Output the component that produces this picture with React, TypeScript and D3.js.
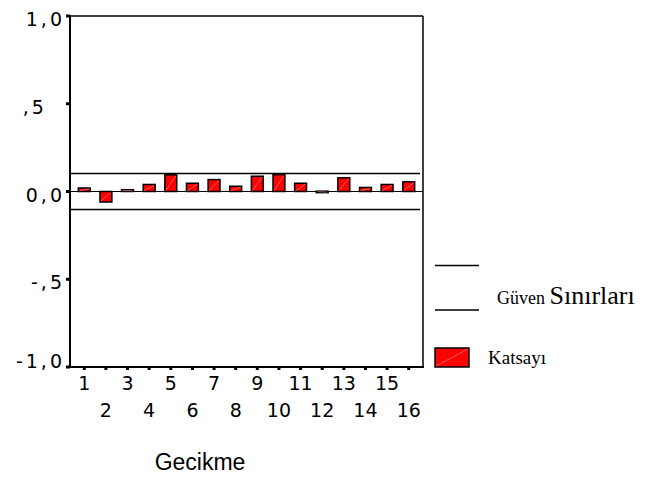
import React from 'react';
import * as d3 from 'd3';

// Lag (Gecikme) values and autocorrelation coefficients (Katsayı)
const lags = [1, 2, 3, 4, 5, 6, 7, 8, 9, 10, 11, 12, 13, 14, 15, 16];
const coefficients = [0.02, -0.06, 0.01, 0.04, 0.095, 0.047, 0.068, 0.03, 0.087, 0.096, 0.047, 0.002, 0.078, 0.023, 0.04, 0.055];
const confidenceLimit = 0.102;
const yTicks = [1, 0.5, 0, -0.5, -1];
const yTickLabels = ['1,0', ',5  ', '0,0', '-,5', '-1,0'];

const W = 651;
const H = 477;
const plot = { left: 70, right: 423, top: 16, bottom: 367 };
const monoFont = "'DejaVu Sans', Verdana, sans-serif";
const serifFont = "'Liberation Serif', 'Times New Roman', serif";

export default function App() {
  const x = d3
    .scaleBand<number>()
    .domain(lags)
    .range([plot.left, plot.right])
    .paddingInner(0.45)
    .paddingOuter(0.385);
  const y = d3.scaleLinear().domain([-1, 1]).range([plot.bottom, plot.top]);
  const bw = x.bandwidth();
  const cx = (d: number) => (x(d) ?? 0) + bw / 2;

  return (
    <div style={{ position: 'absolute', left: 0, top: 0 }}>
      <svg width={W} height={H} viewBox={`0 0 ${W} ${H}`} style={{ display: 'block', background: '#fff' }}>
        {/* frame */}
        <line x1={plot.left} x2={plot.right} y1={plot.top} y2={plot.top} stroke="#000" strokeWidth={1.5} />
        <line x1={plot.right} x2={plot.right} y1={plot.top} y2={plot.bottom} stroke="#000" strokeWidth={1.5} />

        {/* confidence limits and zero line */}
        {[confidenceLimit, -confidenceLimit].map((c, i) => (
          <line key={i} x1={plot.left} x2={plot.right - 3} y1={y(c)} y2={y(c)} stroke="#000" strokeWidth={1.5} />
        ))}
        <line x1={plot.left} x2={plot.right} y1={y(0)} y2={y(0)} stroke="#000" strokeWidth={1.2} />

        {/* bars */}
        {lags.map((d, i) => {
          const v = coefficients[i];
          const x0 = x(d) ?? 0;
          const y0 = y(Math.max(0, v));
          const h = Math.max(1.5, Math.abs(y(v) - y(0)));
          return (
            <g key={d}>
              <rect x={x0} y={y0} width={bw} height={h} fill="#ff0000" stroke="#000" strokeWidth={1.5} />
              <line x1={x0 + 1} y1={y0 + h - 1} x2={x0 + bw - 1} y2={y0 + 1} stroke="#ff9a9a" strokeWidth={0.6} />
            </g>
          );
        })}

        {/* axes */}
        <line x1={plot.left} x2={plot.left} y1={plot.top - 1} y2={plot.bottom + 1} stroke="#000" strokeWidth={2} />
        <line x1={plot.left - 1} x2={plot.right + 1} y1={plot.bottom} y2={plot.bottom} stroke="#000" strokeWidth={2} />

        {/* y ticks */}
        {yTicks.map((t, i) => (
          <g key={t}>
            <rect x={plot.left - 4} y={y(t) - 1.5} width={4} height={3} fill="#000" />
            <text
              x={65}
              y={Math.min(y(t) + 10, 368)}
              textAnchor="end"
              fontFamily={monoFont}
              fontSize={19}
              letterSpacing={3}
              style={{ whiteSpace: 'pre' }}
              fill="#000"
            >
              {yTickLabels[i]}
            </text>
          </g>
        ))}

        {/* x ticks */}
        {lags.map((d) => (
          <g key={d}>
            <rect x={cx(d) - 1.5} y={plot.bottom} width={3} height={3} fill="#000" />
            <text
              x={cx(d)}
              y={d % 2 === 1 ? 390 : 417}
              textAnchor="middle"
              fontFamily={monoFont}
              fontSize={19}
              fill="#000"
            >
              {d}
            </text>
          </g>
        ))}

        <text x={200} y={470} textAnchor="middle" fontFamily="'Liberation Sans', Arial, sans-serif" fontSize={23} fill="#000">
          Gecikme
        </text>

        {/* legend */}
        <line x1={435} x2={479} y1={265.5} y2={265.5} stroke="#000" strokeWidth={1.5} />
        <line x1={435} x2={479} y1={310} y2={310} stroke="#000" strokeWidth={1.5} />
        <text x={497} y={304} fontFamily={serifFont} fill="#000">
          <tspan fontSize={18}>Güven </tspan>
          <tspan fontSize={26}>Sınırları</tspan>
        </text>
        <rect x={435} y={348} width={34} height={19} fill="#ff0000" stroke="#000" strokeWidth={1.5} />
        <line x1={436} y1={366} x2={468} y2={349} stroke="#ff9a9a" strokeWidth={0.6} />
        <text x={488} y={364} fontFamily={serifFont} fontSize={19} fill="#000">
          Katsayı
        </text>
      </svg>
    </div>
  );
}
